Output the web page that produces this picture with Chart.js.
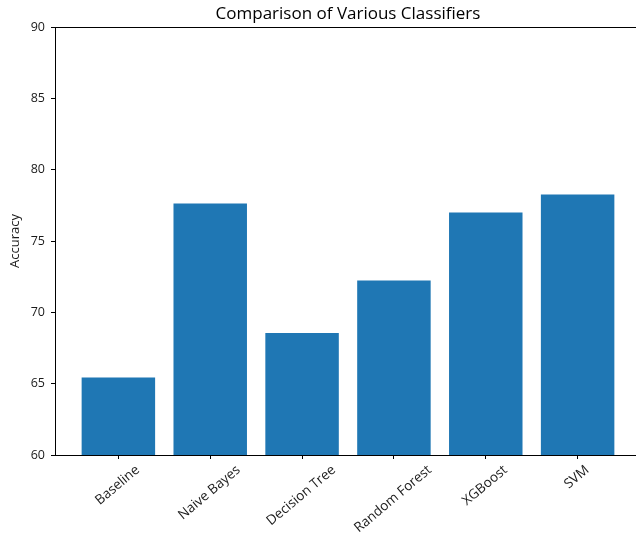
<!DOCTYPE html>
<html>
<head>
<meta charset="utf-8">
<script src="https://cdn.jsdelivr.net/npm/chart.js@4.4.1/dist/chart.umd.min.js"></script>
<style>
  html, body { margin: 0; padding: 0; background: #ffffff; overflow: hidden; }
  #wrap { position: relative; width: 641px; height: 539px; }
</style>
</head>
<body>
<div id="wrap"><canvas id="chart" width="641" height="539"></canvas></div>
<script>
// Classifier names and their accuracy scores
const classifiers = ["Baseline", "Naive Bayes", "Decision Tree", "Random Forest", "XGBoost", "SVM"];
const accuracy = [65.44, 77.63, 68.55, 72.24, 77.0, 78.26];
const yTicks = [60, 65, 70, 75, 80, 85, 90];

const FONT = "'Open Sans', 'DejaVu Sans', sans-serif";
const X_LABEL_SIZE = 13.5;
const LABEL_ROTATION = 40;

// Frame around the plotting area plus the title centred over it
const framePlugin = {
  id: 'frame',
  afterDraw(chart) {
    const { ctx, chartArea: a } = chart;
    ctx.save();
    ctx.strokeStyle = '#000000';
    ctx.lineWidth = 1;
    ctx.strokeRect(Math.round(a.left) + 0.5, Math.round(a.top) + 0.5,
                   Math.round(a.right - a.left), Math.round(a.bottom - a.top));
    ctx.fillStyle = '#000000';
    ctx.font = "17px " + FONT;
    ctx.textAlign = 'center';
    ctx.textBaseline = 'alphabetic';
    ctx.fillText('Comparison of Various Classifiers', (a.left + a.right) / 2, a.top - 8);
    ctx.restore();
  }
};

// Centre each rotated category label under its tick instead of ending it there
const centreRotatedLabels = {
  id: 'centreRotatedLabels',
  beforeDraw(chart) {
    const scale = chart.scales.x;
    const items = scale.getLabelItems(chart.chartArea);
    const ctx = chart.ctx;
    const rad = LABEL_ROTATION * Math.PI / 180;
    ctx.save();
    ctx.font = X_LABEL_SIZE + "px " + FONT;
    items.forEach(item => {
      if (item._centred) return;
      const w = ctx.measureText(item.label).width;
      item.options.translation[0] += (w * Math.cos(rad) + X_LABEL_SIZE * Math.sin(rad)) / 2 - X_LABEL_SIZE * Math.sin(rad) * 0.6;
      item._centred = true;
    });
    ctx.restore();
  }
};

new Chart(document.getElementById('chart'), {
  type: 'bar',
  data: {
    datasets: [{
      data: accuracy.map((v, i) => ({ x: i, y: v })),
      backgroundColor: '#1f77b4',
      borderWidth: 0,
      barPercentage: 0.8,
      categoryPercentage: 1.0
    }]
  },
  options: {
    responsive: false,
    animation: false,
    layout: { padding: { top: 27, right: 0, left: 0, bottom: 0 } },
    plugins: { legend: { display: false }, tooltip: { enabled: false } },
    scales: {
      x: {
        type: 'linear',
        offset: false,
        min: -0.69,
        max: 5.69,
        afterBuildTicks(scale) { scale.ticks = classifiers.map((_, i) => ({ value: i })); },
        afterFit(scale) { scale.height = 84; },
        grid: { display: true, offset: false, drawOnChartArea: false, drawTicks: true, tickLength: 4, color: '#000000' },
        border: { display: true, color: '#000000' },
        ticks: {
          callback: (v) => classifiers[v],
          maxRotation: LABEL_ROTATION,
          minRotation: LABEL_ROTATION,
          autoSkip: false,
          padding: 3,
          color: '#1a1a1a',
          font: { family: FONT, size: X_LABEL_SIZE }
        }
      },
      y: {
        min: 60,
        max: 90,
        afterBuildTicks(scale) { scale.ticks = yTicks.map(v => ({ value: v })); },
        afterFit(scale) { scale.width = 55; },
        grid: { display: true, drawOnChartArea: false, drawTicks: true, tickLength: 4, color: '#000000' },
        border: { display: true, color: '#000000' },
        title: {
          display: true,
          text: 'Accuracy',
          color: '#1a1a1a',
          padding: { top: 7, bottom: 4 },
          font: { family: FONT, size: 13 }
        },
        ticks: {
          padding: 6,
          color: '#1a1a1a',
          font: { family: FONT, size: 12.5 }
        }
      }
    }
  },
  plugins: [framePlugin, centreRotatedLabels]
});
</script>
</body>
</html>
